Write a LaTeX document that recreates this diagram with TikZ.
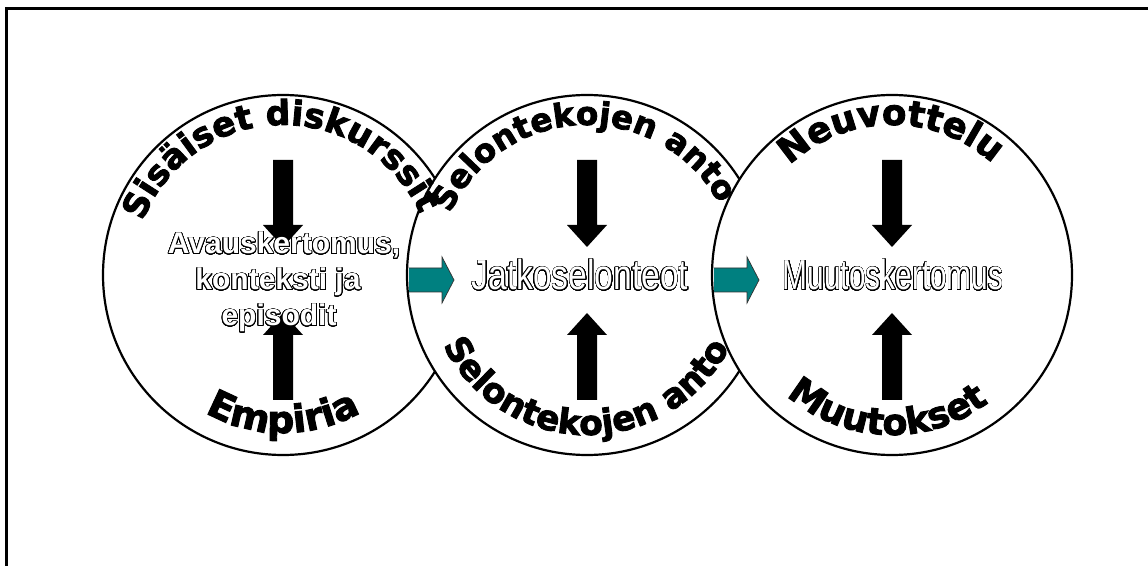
\documentclass[tikz,border=0pt]{standalone}
\usepackage{fontspec}
\setmainfont{Liberation Sans}
\newfontfamily\heavyfont{DejaVu Sans Bold}[FakeBold=2.5]
\newfontfamily\hollowfont{Liberation Sans Bold}
\usepackage{graphicx}
\usepackage{contour}
\contourlength{0.8pt}
\contournumber{32}
\usetikzlibrary{decorations.text}

\definecolor{arrowteal}{RGB}{0,128,128}

\tikzset{
  disc/.style={draw=black, line width=2.2pt, fill=white},
  flowarrow/.style={fill=arrowteal, draw=black!80, line width=0.7pt},
  arctext/.style 2 args={decorate, decoration={text along path, text align=center,
      text={|\heavyfont\fontsize{#1}{#1}\selectfont|#2}}},
  hollow/.style={inner sep=0pt, anchor=base, text=white},
}

% rim text above a centre: arc running clockwise around angle #2
\newcommand\toptext[5]{%
  \path[arctext={#4}{#5}] (#1) ++({#2+85}:#3) arc[start angle={#2+85}, end angle={#2-85}, radius=#3];}
% rim text below a centre: arc running anticlockwise around angle #2
\newcommand\bottomtext[5]{%
  \path[arctext={#4}{#5}] (#1) ++({#2-85}:#3) arc[start angle={#2-85}, end angle={#2+85}, radius=#3];}

\begin{document}
\begin{tikzpicture}[x=1pt,y=1pt]
\useasboundingbox (0,0) rectangle (1148,565);
\clip (0,0) rectangle (1148,565);

% outer frame (only its left and top edges fall on the page)
\draw[line width=2.6pt, line join=miter] (6.5,-20) -- (6.5,556.5) -- (1170,556.5);

% circle centres
\coordinate (cA) at (283,290);
\coordinate (cB) at (587,290);
\coordinate (cC) at (892,290);

% the three overlapping discs
\draw[disc] (cA) circle[radius=180];
\draw[disc] (cB) circle[radius=180];
\draw[disc] (cC) circle[radius=180];

% black block arrows pointing at each centre
\foreach \c in {cA,cB,cC} {
  \fill[black, shift={(\c)}] (-10,115) -- (10,115) -- (10,50) -- (20,50) -- (0,28)
        -- (-20,50) -- (-10,50) -- cycle;
  \fill[black, shift={(\c)}] (-10,-125) -- (10,-125) -- (10,-60) -- (20,-60) -- (0,-38)
        -- (-20,-60) -- (-10,-60) -- cycle;
}

% teal arrows linking the discs
\foreach \c in {cB,cC} {
  \draw[flowarrow, shift={(\c)}] (-178,7) -- (-145,7) -- (-145,18) -- (-133,-5)
        -- (-145,-28) -- (-145,-17) -- (-178,-17);
}

% texts along the rims
\toptext{cA}{91.5}{150}{34.3}{Sisäiset diskurssit}
\bottomtext{cA}{270}{158}{38}{Empiria}
\toptext{cB}{92}{150}{32.5}{Selontekojen anto}
\bottomtext{cB}{269.5}{160}{34.5}{Selontekojen anto}
\toptext{cC}{90.5}{150}{35.6}{Neuvottelu}
\bottomtext{cC}{268}{160}{36.5}{Muutokset}

% hollow centre labels
\node[hollow, font=\hollowfont\fontsize{30}{36}\selectfont] (avaus1) at (284,311) {\contour{black}{Avauskertomus,}};
\node[hollow, font=\hollowfont\fontsize{30}{36}\selectfont] (avaus2) at (278,275) {\contour{black}{konteksti ja}};
\node[hollow, font=\hollowfont\fontsize{30}{36}\selectfont] (avaus3) at (279,239) {\contour{black}{episodit}};
\node[hollow] (jatko) at (580,275) {\scalebox{0.80}[1]{\fontsize{42}{48}\selectfont\contour{black}{Jatkoselonteot}}};
\node[hollow] (muutos) at (893,275) {\scalebox{0.71}[1]{\fontsize{42}{48}\selectfont\contour{black}{Muutoskertomus}}};
\end{tikzpicture}
\end{document}
